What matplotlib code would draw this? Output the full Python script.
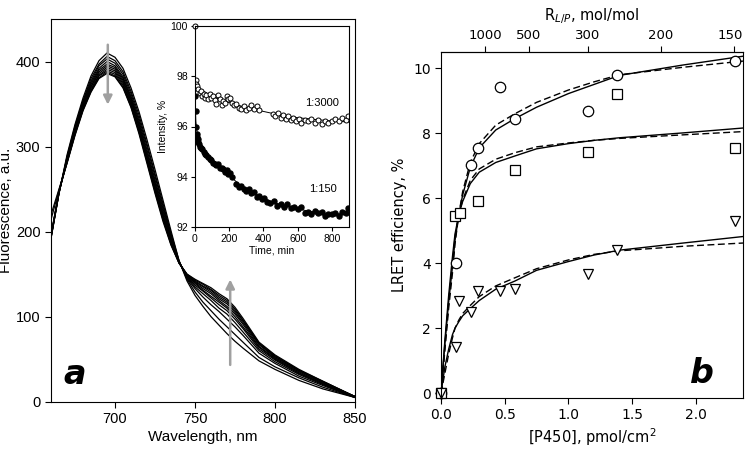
import numpy as np
import matplotlib.pyplot as plt
from matplotlib.transforms import ScaledTranslation

# ---------------- panel a: emission spectra ----------------
wavelength = [660, 665, 670, 675, 680, 685, 690, 695, 700, 705, 710, 715, 720, 725, 730,
              735, 740, 745, 750, 755, 760, 765, 770, 775, 780, 790, 800, 815, 830, 850]
spectra = [
    [192, 245, 290, 326, 357, 383, 401, 410, 405, 392, 369, 341, 308, 273, 237, 201, 166,
     142, 125, 112, 100, 90, 80, 71, 63, 48, 38, 25, 15, 5],
    [192, 245, 288, 324, 354, 380, 397, 406, 401, 388, 365, 337, 303, 268, 233, 198, 166,
     144, 129, 117, 107, 97, 88, 79, 70, 52, 41, 28, 17, 5],
    [193, 245, 287, 322, 353, 377, 395, 403, 398, 385, 362, 333, 300, 265, 230, 196, 165,
     145, 133, 123, 114, 106, 97, 88, 78, 57, 45, 30, 19, 5],
    [193, 246, 286, 321, 351, 375, 392, 400, 395, 382, 359, 330, 296, 261, 227, 194, 165,
     146, 135, 127, 119, 110, 103, 93, 82, 60, 47, 32, 20, 5],
    [194, 246, 285, 319, 349, 373, 390, 397, 393, 380, 357, 327, 293, 258, 224, 192, 164,
     147, 137, 130, 122, 114, 107, 97, 86, 62, 49, 33, 21, 6],
    [194, 246, 284, 318, 348, 371, 388, 395, 391, 378, 355, 325, 290, 256, 221, 190, 164,
     148, 139, 131, 124, 117, 110, 100, 88, 64, 50, 34, 21, 6],
    [195, 247, 283, 317, 346, 370, 386, 393, 389, 376, 353, 323, 288, 253, 219, 189, 164,
     148, 140, 133, 127, 119, 112, 103, 91, 65, 51, 35, 22, 6],
    [195, 247, 282, 316, 345, 368, 384, 391, 387, 374, 351, 320, 286, 251, 217, 188, 164,
     149, 141, 135, 129, 121, 115, 105, 93, 67, 52, 36, 23, 6],
    [196, 247, 281, 315, 344, 366, 383, 389, 385, 372, 349, 318, 284, 249, 215, 186, 163,
     149, 142, 136, 131, 123, 117, 107, 95, 68, 53, 37, 23, 6],
    [214, 249, 281, 314, 343, 365, 381, 387.5, 383, 370, 347, 317, 282, 247, 214, 185, 163,
     150, 143, 138, 132, 125, 119, 109, 96, 69, 54, 37, 24, 6],
    [220, 250, 280, 313, 342, 364, 380, 386, 382, 369, 346, 315, 280, 245, 212, 184, 163,
     150, 144, 139, 134, 127, 121, 111, 98, 70, 55, 38, 24, 6],
]

# inset: intensity vs time
t_3000 = [3, 8, 14, 20, 27, 34, 42, 50, 58, 66, 75, 85, 95, 105, 115, 125, 135, 145,
          155, 165, 175, 185, 195, 205, 215, 225, 240, 255, 270, 285, 300, 315, 330,
          345, 360, 375, 455, 470, 485, 500, 515, 530, 545, 560, 575, 590, 605, 620,
          640, 660, 680, 700, 720, 740, 760, 780, 800, 820, 840, 860, 880, 895]
i_3000 = [97.85, 97.7, 97.6, 97.5, 97.35, 97.4, 97.2, 97.3, 97.15, 97.25, 97.1, 97.3,
          97.15, 97.2, 97.05, 96.9, 97.25, 97.1, 96.85, 97.0, 96.95, 97.2, 97.1, 97.15,
          96.95, 96.85, 96.9, 96.75, 96.7, 96.8, 96.65, 96.75, 96.85, 96.7, 96.8, 96.65,
          96.5, 96.4, 96.55, 96.35, 96.45, 96.3, 96.4, 96.25, 96.35, 96.2, 96.3, 96.15,
          96.25, 96.2, 96.3, 96.15, 96.25, 96.1, 96.2, 96.15, 96.2, 96.3, 96.2, 96.35,
          96.25, 96.4]
t_150 = [0, 3, 6, 9, 12, 16, 20, 25, 30, 36, 42, 50, 58, 66, 75, 85, 95, 105, 115,
         125, 135, 145, 155, 165, 175, 185, 195, 205, 215, 240, 255, 270, 285, 300,
         315, 330, 345, 360, 375, 390, 405, 420, 440, 460, 480, 500, 520, 540, 560,
         580, 600, 620, 640, 660, 680, 700, 720, 740, 760, 780, 800, 820, 840, 860,
         880, 895]
i_150 = [97.2, 96.6, 96.0, 95.7, 95.6, 95.5, 95.4, 95.3, 95.2, 95.15, 95.1, 95.0,
         94.9, 94.85, 94.8, 94.7, 94.65, 94.55, 94.5, 94.45, 94.5, 94.35, 94.35, 94.3,
         94.2, 94.25, 94.1, 94.15, 94.0, 93.7, 93.6, 93.65, 93.5, 93.45, 93.5, 93.35,
         93.4, 93.2, 93.25, 93.1, 93.15, 93.0, 92.95, 93.05, 92.85, 92.9, 92.8, 92.9,
         92.75, 92.8, 92.7, 92.8, 92.55, 92.6, 92.5, 92.65, 92.55, 92.6, 92.45, 92.5,
         92.5, 92.55, 92.45, 92.6, 92.55, 92.75]
fit_t_3000 = [0, 100, 200, 300, 400, 500, 600, 700, 800, 900]
fit_i_3000 = [97.6, 97.2, 96.95, 96.75, 96.6, 96.45, 96.35, 96.28, 96.22, 96.18]
fit_t_150 = [0, 5, 15, 40, 80, 150, 250, 350, 450, 550, 650, 750, 900]
fit_i_150 = [97.2, 96.2, 95.6, 95.2, 94.85, 94.35, 93.75, 93.3, 93.0, 92.8, 92.65, 92.55, 92.5]

# ---------------- panel b: LRET efficiency ----------------
circ_x = [0, 0.118, 0.233, 0.288, 0.463, 0.578, 1.153, 1.384, 2.306]
circ_y = [0, 4.0, 7.02, 7.53, 9.41, 8.45, 8.67, 9.8, 10.22]
sq_x = [0, 0.112, 0.149, 0.288, 0.578, 1.153, 1.384, 2.306]
sq_y = [0, 5.46, 5.53, 5.92, 6.88, 7.43, 9.22, 7.56]
tri_x = [0, 0.118, 0.144, 0.235, 0.288, 0.463, 0.578, 1.153, 1.384, 2.306]
tri_y = [0, 1.43, 2.83, 2.50, 3.15, 3.15, 3.22, 3.68, 4.4, 5.30]

fit_x = [0, 0.03, 0.06, 0.09, 0.11, 0.14, 0.17, 0.23, 0.30, 0.43, 0.58,
         0.75, 1.0, 1.2, 1.4, 1.9, 2.37]
circ_fit = [0, 1.5, 2.8, 3.9, 4.7, 5.5, 6.1, 6.95, 7.55, 8.1, 8.45,
            8.8, 9.22, 9.5, 9.78, 10.1, 10.37]
circ_fit2 = [0, 1.3, 2.6, 3.7, 4.6, 5.5, 6.2, 7.1, 7.68, 8.25, 8.6,
             8.95, 9.33, 9.58, 9.8, 10.03, 10.22]
sq_fit = [0, 1.6, 3.0, 4.2, 4.9, 5.5, 5.9, 6.45, 6.8, 7.1, 7.3,
          7.52, 7.68, 7.78, 7.86, 8.01, 8.16]
sq_fit2 = [0, 1.4, 2.8, 4.0, 4.8, 5.5, 5.95, 6.55, 6.9, 7.2, 7.4,
           7.58, 7.7, 7.78, 7.84, 7.95, 8.05]
tri_fit = [0, 0.8, 1.35, 1.8, 2.0, 2.2, 2.38, 2.6, 2.85, 3.2, 3.45,
           3.78, 4.05, 4.25, 4.4, 4.62, 4.82]
tri_fit2 = [0, 0.6, 1.2, 1.7, 2.0, 2.25, 2.45, 2.7, 2.97, 3.3, 3.55,
            3.83, 4.1, 4.27, 4.38, 4.52, 4.62]

rlp_ticks = [1000, 500, 300, 200, 150]
rlp_factor = 345.0   # [P450] = factor / R_L/P

fig = plt.figure(figsize=(7.45, 4.55), dpi=100)

# ---- panel a ----
arial = 'Liberation Sans'
ax = fig.add_axes([51 / 745, (455 - 401.7) / 455, 304 / 745, 382.7 / 455])
for s in spectra:
    ax.plot(wavelength, s, color='black', lw=0.9)
ax.set_xlim(660, 850)
ax.set_ylim(0, 450)
ax.set_xticks([700, 750, 800, 850])
ax.set_yticks([0, 100, 200, 300, 400])
ax.tick_params(direction='out', length=4, labelsize=10.5)
for lab in ax.get_xticklabels() + ax.get_yticklabels():
    lab.set_family(arial)
ax.set_xlabel('Wavelength, nm', family=arial, fontsize=11, labelpad=3)
ax.set_ylabel('Fluorescence, a.u.', family=arial, fontsize=11, labelpad=2)
arrow = dict(arrowstyle='-|>', color='#a0a0a0', lw=1.8, mutation_scale=13)
ax.annotate('', xy=(695.5, 346), xytext=(695.5, 423), arrowprops=arrow)
ax.annotate('', xy=(772, 147), xytext=(772, 40), arrowprops=arrow)
ax.text(0.079, 0.071, 'a', transform=ax.transAxes, ha='center', va='center',
        fontsize=24, fontweight='bold', style='italic', family='DejaVu Sans')

# ---- inset ----
ins = fig.add_axes([195 / 745, (455 - 227) / 455, 154 / 745, 201 / 455])
ins.plot(fit_t_3000, fit_i_3000, color='black', lw=0.7)
ins.plot(fit_t_150, fit_i_150, color='black', lw=0.7)
ins.plot(t_150, i_150, 'o', ms=3.6, color='black', mec='black')
ins.plot(t_3000, i_3000, 'o', ms=3.6, mfc='white', mec='black', mew=0.7)
ins.plot([0], [100], 'o', ms=3.6, mfc='white', mec='black', mew=0.7, clip_on=False)
ins.set_xlim(0, 900)
ins.set_ylim(92, 100)
ins.set_xticks([0, 200, 400, 600, 800])
ins.set_yticks([92, 94, 96, 98, 100])
ins.tick_params(direction='out', length=3, labelsize=7.5, pad=2)
for lab in ins.get_xticklabels() + ins.get_yticklabels():
    lab.set_family(arial)
ins.set_xlabel('Time, min', family=arial, fontsize=7.5, labelpad=1)
ins.set_ylabel('Intensity, %', family=arial, fontsize=7.5, labelpad=2)
ins.text(745, 96.95, '1:3000', family=arial, fontsize=8, ha='center', va='center')
ins.text(745, 93.5, '1:150', family=arial, fontsize=8, ha='center', va='center')

# ---- panel b ----
bx = fig.add_axes([441 / 745, (455 - 398) / 455, 302 / 745, 346 / 455])
for y1, y2 in [(circ_fit, circ_fit2), (sq_fit, sq_fit2), (tri_fit, tri_fit2)]:
    bx.plot(fit_x, y1, color='black', lw=1.0)
    bx.plot(fit_x, y2, color='black', lw=1.0, dashes=(5, 2.5))
mk = dict(ls='none', mfc='white', mec='black', mew=0.9, clip_on=False)
bx.plot(circ_x, circ_y, marker='o', ms=7.5, **mk)
bx.plot(sq_x, sq_y, marker='s', ms=6.5, **mk)
bx.plot(tri_x, tri_y, marker='v', ms=7.5, **mk)
bx.set_xlim(0, 2.37)
bx.set_ylim(-0.15, 10.5)
bx.set_xticks([0, 0.5, 1.0, 1.5, 2.0])
bx.set_xticklabels(['0.0', '0.5', '1.0', '1.5', '2.0'])
bx.set_yticks([0, 2, 4, 6, 8, 10])
bx.tick_params(direction='out', length=4, labelsize=10)
bx.set_xlabel('[P450], pmol/cm$^2$', fontsize=10.5, labelpad=3)
bx.set_ylabel('LRET efficiency, %', fontsize=10.5, labelpad=4)
top = bx.secondary_xaxis('top')
top.set_xticks([rlp_factor / r for r in rlp_ticks])
top.set_xticklabels([str(r) for r in rlp_ticks])
top.tick_params(direction='out', length=4, labelsize=9.5)
top.set_xlabel('R$_{L/P}$, mol/mol', fontsize=10.5, labelpad=6)
# the last top label sits at the figure edge; nudge it a little inward
last = top.xaxis.get_major_ticks()[-1].label2
last.set_transform(last.get_transform() + ScaledTranslation(-3 / 72, 0, fig.dpi_scale_trans))
bx.text(0.864, 0.072, 'b', transform=bx.transAxes, ha='center', va='center',
        fontsize=24, fontweight='bold', style='italic', family='DejaVu Sans')

fig.savefig('out.png', dpi=100)
